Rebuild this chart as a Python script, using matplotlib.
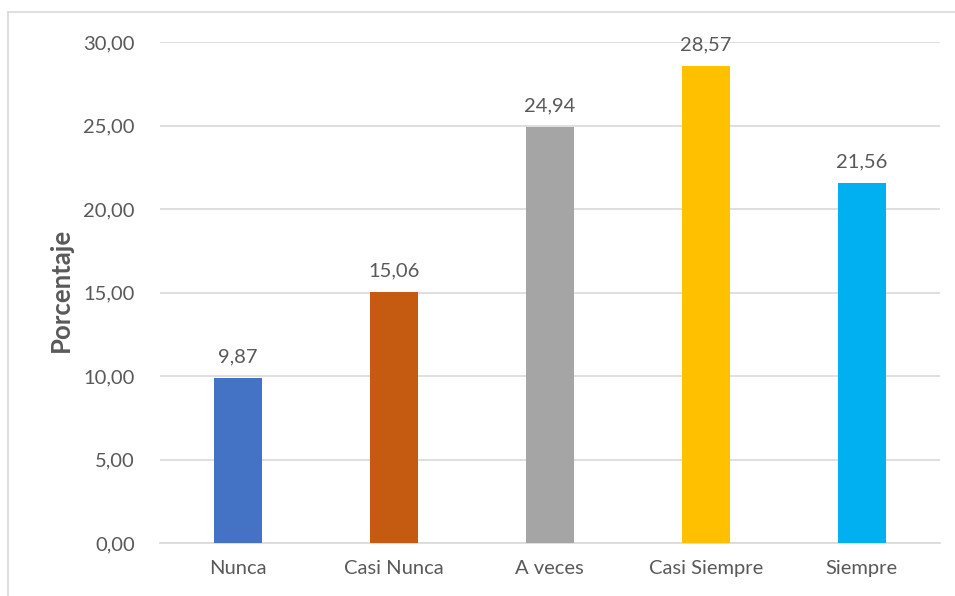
import matplotlib
matplotlib.use("Agg")
import matplotlib.pyplot as plt
from matplotlib.ticker import FuncFormatter, MultipleLocator
from matplotlib.lines import Line2D

categories = ["Nunca", "Casi Nunca", "A veces", "Casi Siempre", "Siempre"]
values = [9.87, 15.06, 24.94, 28.57, 21.56]
colors = ["#4472C4", "#C55A11", "#A5A5A5", "#FFC000", "#00B0F0"]
ylabel = "Porcentaje"

plt.rcParams['font.family'] = ['Lato', 'DejaVu Sans']
txt = "#595959"

fig = plt.figure(figsize=(9.55, 5.96), dpi=100)
ax = fig.add_axes([0.1675, 0.0889, 0.8165, 0.8406])

x = range(len(categories))
ax.bar(x, values, width=0.31, color=colors, zorder=3)
for xi, v in zip(x, values):
    ax.text(xi, v + 0.75, f"{v:.2f}".replace(".", ","), ha="center", va="bottom",
            fontsize=14.5, color=txt)

ax.set_xlim(-0.5, len(categories) - 0.5)
ax.set_ylim(0, 30)
ax.yaxis.set_major_locator(MultipleLocator(5))
ax.yaxis.set_major_formatter(FuncFormatter(lambda v, p: f"{v:.2f}".replace(".", ",")))
ax.set_xticks(list(x))
ax.set_xticklabels(categories)
ax.tick_params(axis="both", length=0, labelsize=14.5, labelcolor=txt)
ax.tick_params(axis="x", pad=12)
ax.tick_params(axis="y", pad=18)
ax.grid(axis="y", color="#D9D9D9", linewidth=1.2, zorder=0)
for s in ["top", "right", "left"]:
    ax.spines[s].set_visible(False)
ax.spines["bottom"].set_color("#D9D9D9")
ax.spines["bottom"].set_linewidth(1.2)
ax.set_ylabel(ylabel, fontsize=18.5, fontweight="bold", color="#595959")
ax.yaxis.set_label_coords(61/955, 1 - 290/596, transform=fig.transFigure)
ax.yaxis.label.set_va("center")

# outer chart border (top and left visible)
fig.add_artist(Line2D([8/955, 8/955], [0, 1 - 12/596], transform=fig.transFigure,
                      color="#D9D9D9", linewidth=1.2))
fig.add_artist(Line2D([8/955, 1], [1 - 12/596, 1 - 12/596], transform=fig.transFigure,
                      color="#D9D9D9", linewidth=1.2))

fig.savefig("out.png", dpi=100)
